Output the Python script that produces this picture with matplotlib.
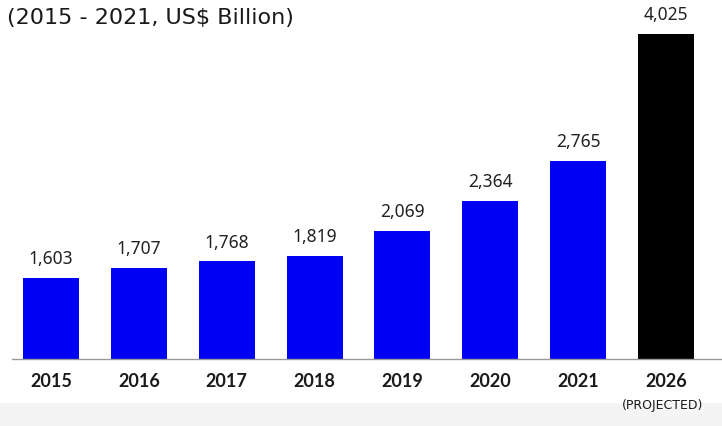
import matplotlib
matplotlib.use('Agg')
from matplotlib import pyplot as plt
from matplotlib.patches import Rectangle

years = ['2015', '2016', '2017', '2018', '2019', '2020', '2021', '2026']
values = [1603, 1707, 1768, 1819, 2069, 2364, 2765, 4025]
value_labels = ['1,603', '1,707', '1,768', '1,819', '2,069', '2,364', '2,765', '4,025']
colors = ['#0000f5'] * 7 + ['#000000']

plt.rcParams['font.family'] = ['Noto Sans', 'DejaVu Sans']

fig = plt.figure(figsize=(7.22, 4.26), dpi=100)

# light band along the bottom edge
fig.patches.append(Rectangle((0, 0), 1, 23 / 426, transform=fig.transFigure,
                             facecolor='#f4f4f4', edgecolor='none', zorder=0))

ax = fig.add_axes([12 / 722, 67 / 426, 710 / 722, 325 / 426])
ax.set_facecolor('none')

x = range(len(years))
ax.bar(x, values, width=0.637, color=colors, zorder=2)

for xi, v, lab in zip(x, values, value_labels):
    ax.annotate(lab, (xi, v), xytext=(0, 10), textcoords='offset points',
                ha='center', va='baseline', fontsize=12.5, color='#222222',
                annotation_clip=False)

ax.set_xlim(-0.444, 7.637)
ax.set_ylim(800, 4025)

for side in ['top', 'right', 'left']:
    ax.spines[side].set_visible(False)
ax.spines['bottom'].set_color('#999999')
ax.spines['bottom'].set_linewidth(1)

ax.set_yticks([])
ax.set_xticks(list(x))
ax.set_xticklabels(years, fontsize=13, fontweight='bold', color='#1a1a1a',
                   family='Lato')
ax.tick_params(axis='x', length=0, pad=10)

fig.text(663 / 722, 1 - 405 / 426, '(PROJECTED)', ha='center', va='center',
         fontsize=9, color='#1a1a1a', family='DejaVu Sans')

fig.text(7 / 722, 1 - 18 / 426, '(2015 - 2021, US$ Billion)', ha='left',
         va='center', fontsize=16, color='#1a1a1a', family='DejaVu Sans')

fig.savefig('out.png', dpi=100)
